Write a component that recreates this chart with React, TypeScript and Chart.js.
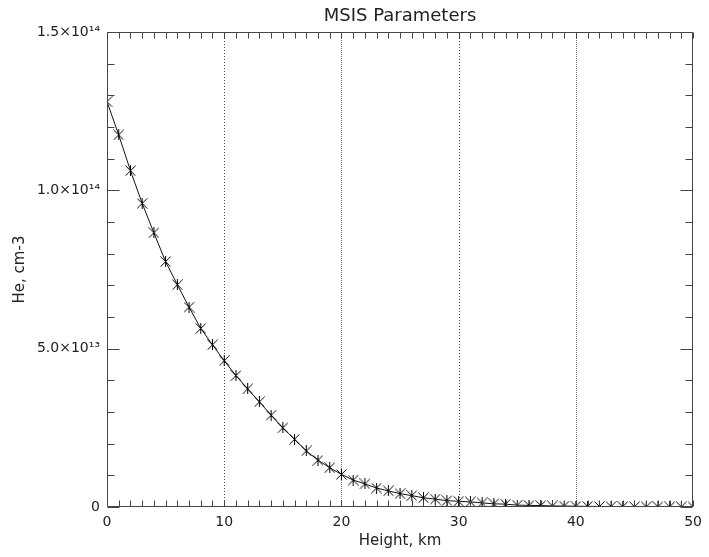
import React, { useEffect, useRef } from "react";
import { Chart, registerables } from "chart.js";

Chart.register(...registerables);

// ---- data ----
const heightsKm = [
  0, 1, 2, 3, 4, 5, 6, 7, 8, 9, 10, 11, 12, 13, 14, 15, 16, 17, 18, 19, 20,
  21, 22, 23, 24, 25, 26, 27, 28, 29, 30, 31, 32, 33, 34, 35, 36, 37, 38, 39,
  40, 41, 42, 43, 44, 45, 46, 47, 48, 49, 50,
];
// He density in units of 1e13 cm^-3
const heDensity13 = [
  12.8, 11.75, 10.62, 9.59, 8.66, 7.75, 7.02, 6.31, 5.64, 5.12, 4.62,
  4.15, 3.73, 3.32, 2.9, 2.5, 2.14, 1.77, 1.48, 1.24, 1.03,
  0.85, 0.73, 0.6, 0.51, 0.42, 0.36, 0.29, 0.25, 0.2, 0.18,
  0.16, 0.13, 0.1, 0.09, 0.06, 0.05, 0.045, 0.035, 0.03,
  0.024, 0.02, 0.016, 0.013, 0.011, 0.009, 0.007, 0.006, 0.005, 0.004, 0.003,
];
const yTickValues = [0, 5e13, 1e14, 1.5e14];
const yTickLabels = ["0", "5.0×10¹³", "1.0×10¹⁴", "1.5×10¹⁴"];
const xDottedGrid = [10, 30];
const xFineGrid = [20, 40];
const titleText = "MSIS Parameters";
const xTitle = "Height, km";
const yTitle = "He, cm-3";

const FONT = "'DejaVu Sans', sans-serif";
const INK = "#222";

function makeAsterisk(): HTMLCanvasElement {
  const c = document.createElement("canvas");
  c.width = 11;
  c.height = 11;
  const g = c.getContext("2d")!;
  g.strokeStyle = "#000";
  g.lineWidth = 1;
  g.beginPath();
  g.moveTo(5.5, 0);
  g.lineTo(5.5, 11);
  g.moveTo(0.5, 0.5);
  g.lineTo(10.5, 10.5);
  g.moveTo(10.5, 0.5);
  g.lineTo(0.5, 10.5);
  g.stroke();
  return c;
}

const idlFrame = {
  id: "idlFrame",
  beforeDatasetsDraw(chart: any) {
    const { ctx, chartArea: a, scales } = chart;
    const xs = scales.x;
    ctx.save();
    ctx.lineWidth = 1;
    const vline = (v: number, dash: number[], color: string) => {
      const px = Math.round(xs.getPixelForValue(v)) + 0.5;
      ctx.setLineDash(dash);
      ctx.strokeStyle = color;
      ctx.beginPath();
      ctx.moveTo(px, a.top);
      ctx.lineTo(px, a.bottom);
      ctx.stroke();
    };
    xDottedGrid.forEach((v) => vline(v, [1, 2], "#444"));
    xFineGrid.forEach((v) => vline(v, [1, 1], "#777"));
    ctx.restore();
  },
  afterDatasetsDraw(chart: any) {
    const { ctx, chartArea: a, scales } = chart;
    const xs = scales.x;
    const ys = scales.y;
    ctx.save();
    ctx.setLineDash([]);
    ctx.lineWidth = 1;
    ctx.strokeStyle = "#444";
    const L = Math.round(a.left) + 0.5;
    const R = Math.round(a.right) - 0.5;
    const T = Math.round(a.top) + 0.5;
    const B = Math.round(a.bottom) - 0.5;
    ctx.beginPath();
    ctx.rect(L, T, R - L, B - T);
    // x minor ticks (every 1 km), top and bottom
    for (let v = xs.min; v <= xs.max; v += 1) {
      const px = Math.round(xs.getPixelForValue(v)) + 0.5;
      ctx.moveTo(px, B);
      ctx.lineTo(px, B - 6);
      ctx.moveTo(px, T);
      ctx.lineTo(px, T + 6);
    }
    // y ticks every 1e13, major every 5e13
    for (let i = 0; i <= 15; i++) {
      const v = i * 1e13;
      const py = Math.round(ys.getPixelForValue(v)) + 0.5;
      const len = i % 5 === 0 ? 12 : 7;
      ctx.moveTo(L, py);
      ctx.lineTo(L + len, py);
      ctx.moveTo(R, py);
      ctx.lineTo(R - len, py);
    }
    ctx.stroke();
    ctx.restore();
  },
};

export default function App() {
  const ref = useRef<HTMLCanvasElement | null>(null);

  useEffect(() => {
    document.body.style.margin = "0";
    const canvas = ref.current!;
    const marker = makeAsterisk();
    const chart = new Chart(canvas, {
      type: "line",
      data: {
        datasets: [
          {
            data: heightsKm.map((h, i) => ({ x: h, y: heDensity13[i] * 1e13 })),
            borderColor: "#111",
            borderWidth: 1,
            pointStyle: marker as any,
            pointRadius: 5,
            tension: 0,
            fill: false,
          },
        ],
      },
      options: {
        animation: false,
        responsive: false,
        devicePixelRatio: 1,
        layout: { padding: { left: 0, right: 11, top: 0, bottom: 0 } },
        plugins: {
          legend: { display: false },
          tooltip: { enabled: false },
          title: {
            display: true,
            fullSize: false,
            text: titleText,
            color: INK,
            font: { family: FONT, size: 18, weight: "normal" },
            padding: { top: 6, bottom: 4.4 },
          },
        },
        scales: {
          x: {
            type: "linear",
            min: 0,
            max: 50,
            grid: { display: false, drawTicks: false },
            border: { display: false },
            ticks: {
              stepSize: 10,
              padding: 7,
              color: INK,
              font: { family: FONT, size: 14 },
              maxRotation: 0,
            },
            title: {
              display: true,
              text: xTitle,
              color: INK,
              font: { family: FONT, size: 15 },
              padding: { top: 0, bottom: 7 },
            },
            afterFit: (s: any) => {
              s.height = 50;
            },
          },
          y: {
            type: "linear",
            min: 0,
            max: 1.5e14,
            grid: { display: false, drawTicks: false },
            border: { display: false },
            afterBuildTicks: (s: any) => {
              s.ticks = yTickValues.map((v) => ({ value: v }));
            },
            ticks: {
              padding: 7,
              color: INK,
              font: { family: FONT, size: 14 },
              callback: (v: any) => {
                const i = yTickValues.indexOf(Number(v));
                return i >= 0 ? yTickLabels[i] : "";
              },
            },
            title: {
              display: true,
              text: yTitle,
              color: INK,
              font: { family: FONT, size: 15 },
              padding: { top: 11, bottom: 0 },
            },
            afterFit: (s: any) => {
              s.width = 107;
            },
          },
        },
      },
      plugins: [idlFrame],
    });
    return () => chart.destroy();
  }, []);

  return (
    <div style={{ width: 709, height: 557, background: "#fff" }}>
      <canvas ref={ref} width={709} height={557} />
    </div>
  );
}
